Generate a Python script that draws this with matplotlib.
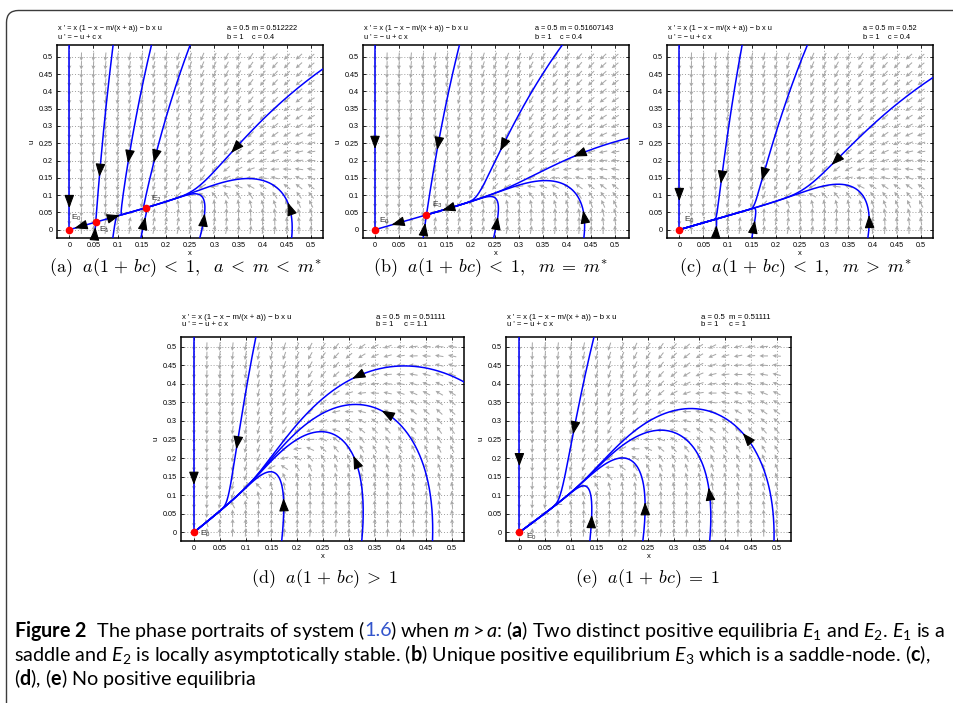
import math
import numpy as np
import matplotlib
matplotlib.use('Agg')
import matplotlib.pyplot as plt
from matplotlib.patches import FancyBboxPatch
from matplotlib.transforms import IdentityTransform

W, H = 954, 703

# system parameters shown in each panel header
a_vals = [0.5, 0.5, 0.5, 0.5, 0.5]
m_vals = [0.512222, 0.51607143, 0.52, 0.51111, 0.51111]
b_vals = [1, 1, 1, 1, 1]
c_vals = [0.4, 0.4, 0.4, 1.1, 1]
m_text = ['0.512222', '0.51607143', '0.52', '0.51111', '0.51111']
c_text = ['0.4', '0.4', '0.4', '1.1', '1']

sub_captions = [
    r'$\mathrm{(a)}\ \ a(1\,+\,bc)\;<\;1,\ \ a\;<\;m\;<\;m^{*}$',
    r'$\mathrm{(b)}\ \ a(1\,+\,bc)\;<\;1,\ \ m\;=\;m^{*}$',
    r'$\mathrm{(c)}\ \ a(1\,+\,bc)\;<\;1,\ \ m\;>\;m^{*}$',
    r'$\mathrm{(d)}\ \ a(1\,+\,bc)\;>\;1$',
    r'$\mathrm{(e)}\ \ a(1\,+\,bc)\;=\;1$',
]

# axis windows (x range, u range)
xlims = [(-0.0254, 0.5248), (-0.025, 0.529), (-0.0254, 0.5248), (-0.025, 0.523), (-0.026, 0.528)]
ylims = [(-0.024, 0.534), (-0.024, 0.534), (-0.024, 0.534), (-0.0234, 0.526), (-0.0234, 0.526)]
xticks = [0, 0.05, 0.1, 0.15, 0.2, 0.25, 0.3, 0.35, 0.4, 0.45, 0.5]
xtick_labels = ['0', '0.05', '0.1', '0.15', '0.2', '0.25', '0.3', '0.35', '0.4', '0.45', '0.5']
field_pts = np.linspace(0, 0.5, 21)

# trajectory start points (x, u) and where their arrow sits
starts = [
    [(0.0, 0.534), (0.17, 0.534), (0.25, 0.534), (0.5248, 0.465), (0.09, -0.024),
     (0.148, -0.024), (0.27, -0.024), (0.46, -0.024)],
    [(0.0, 0.534), (0.39, 0.534), (0.529, 0.265), (0.247, -0.024), (0.435, -0.024)],
    [(0.0, 0.534), (0.13, 0.534), (0.075, -0.024), (0.265, 0.534), (0.15, -0.024),
     (0.5248, 0.44), (0.39, -0.024)],
    [(0.0, 0.526), (0.12, 0.526), (0.523, 0.405), (0.462, -0.0234), (0.325, -0.0234),
     (0.17, -0.0234)],
    [(0.0, 0.526), (0.145, 0.526), (0.495, -0.0234), (0.37, -0.0234), (0.24, -0.0234),
     (0.137, -0.0234)],
]
arrow_pts = [
    [[(0, 0.07)], [(0.12, 0.2)], [(0.18, 0.2)], [(0.34, 0.225)], [],
     [(0.155, 0.03)], [(0.28, 0.04)], [(0.45, 0.07)]],
    [[(0, 0.24)], [(0.27, 0.23), (0.145, 0.057)], [(0.42, 0.21)], [(0.258, 0.03)], [(0.437, 0.05)]],
    [[(0, 0.09)], [(0.09, 0.14)], [(0.076, 0.005)], [(0.17, 0.15)], [(0.155, 0.02)],
     [(0.32, 0.19)], [(0.39, 0.035)]],
    [[(0, 0.135)], [(0.082, 0.23)], [(0.31, 0.42)], [(0.37, 0.33)], [(0.31, 0.2)], [(0.172, 0.085)]],
    [[(0, 0.185)], [(0.107, 0.27)], [(0.44, 0.265)], [(0.37, 0.115)], [(0.24, 0.075)], [(0.137, 0.04)]],
]
# invariant manifolds of the interior equilibria: (root index, kind, side, arrow)
manifolds = [
    [(0, 'stable', 1, (0.058, 0.16)), (0, 'stable', -1, (0.052, 0.0)),
     (0, 'unstable', -1, (0.015, 0.008)), (0, 'unstable', 1, (0.1, 0.04))],
    [(0, 'stable', 1, (0.12, 0.24)), (0, 'stable', -1, (0.107, 0.012)),
     (0, 'center', -1, (0.04, 0.013))],
    [], [], [],
]
eq_names = [[r'E$_1$', r'E$_2$'], [r'E$_3$'], [], [], []]
eq_label_off = [[(0.006, -0.022), (0.009, 0.024)], [(0.011, 0.028)], [], [], []]
e0_label_pos = [(0.004, 0.034), (0.009, 0.024), (0.01, 0.027), (0.012, -0.003), (0.012, -0.013)]

# axes boxes in pixels: left, top, right, bottom
boxes = [(57, 45, 323, 238), (363, 45, 629, 238), (667, 45, 933, 238),
         (181, 337, 464, 541), (506, 337, 791, 541)]
caption_xy = [(185, 268), (490, 268), (795, 268), (325, 579), (648, 579)]
right_hdr = [0.639, 0.647, 0.737, 0.689, 0.683]

FIELD_GRAY = '#a8a8a8'
TRAJ_BLUE = '#0000ff'


def field(x, u, p):
    a, m, b, c = p
    return x * (1 - x - m / (x + a)) - b * x * u, -u + c * x


def integrate(p, x0, u0, sign, box, ds=0.0012, dtmax=1.0, nmax=7000):
    xs, us = [x0], [u0]
    x, u = x0, u0

    def f(x, u):
        fx, fu = field(x, u, p)
        return sign * fx, sign * fu

    for _ in range(nmax):
        k1 = f(x, u)
        sp = math.hypot(*k1)
        if sp < 1e-10:
            break
        dt = min(ds / sp, dtmax)
        k2 = f(x + dt / 2 * k1[0], u + dt / 2 * k1[1])
        k3 = f(x + dt / 2 * k2[0], u + dt / 2 * k2[1])
        k4 = f(x + dt * k3[0], u + dt * k3[1])
        x += dt / 6 * (k1[0] + 2 * k2[0] + 2 * k3[0] + k4[0])
        u += dt / 6 * (k1[1] + 2 * k2[1] + 2 * k3[1] + k4[1])
        xs.append(x)
        us.append(u)
        if x < box[0] or x > box[1] or u < box[2] or u > box[3]:
            break
    return np.array(xs), np.array(us)


def equilibria(p):
    a, m, b, c = p
    k = 1 + b * c
    disc = max((1 - a * k) ** 2 - 4 * k * (m - a), 0.0)
    roots = [((1 - a * k) - math.sqrt(disc)) / (2 * k), ((1 - a * k) + math.sqrt(disc)) / (2 * k)]
    return [(r, c * r) for r in roots if r > 0]


def jacobian(p, x, u, h=1e-7):
    f0 = np.array(field(x, u, p))
    jx = (np.array(field(x + h, u, p)) - f0) / h
    ju = (np.array(field(x, u + h, p)) - f0) / h
    return np.column_stack([jx, ju])


plt.rcParams['font.family'] = ['Liberation Sans', 'DejaVu Sans']
plt.rcParams['mathtext.fontset'] = 'custom'
plt.rcParams['mathtext.rm'] = 'Lato'
plt.rcParams['mathtext.it'] = 'Lato:italic'
plt.rcParams['mathtext.bf'] = 'Lato:bold'

fig = plt.figure(figsize=(W / 100, H / 100), dpi=100)

for i in range(5):
    p = (a_vals[i], m_vals[i], b_vals[i], c_vals[i])
    l, t, r, bt = boxes[i]
    ax = fig.add_axes([l / W, 1 - bt / H, (r - l) / W, (bt - t) / H])
    x0, x1 = xlims[i]
    y0, y1 = ylims[i]
    ax.set_xlim(x0, x1)
    ax.set_ylim(y0, y1)
    pw, ph = r - l, bt - t
    sx_ = (x1 - x0) / pw
    sy_ = (y1 - y0) / ph

    # direction field, arrows of equal on-screen length
    GX, GY = np.meshgrid(field_pts, field_pts)
    FX, FY = field(GX, GY, p)
    PX = FX / sx_
    PY = FY / sy_
    L = np.hypot(PX, PY)
    L[L == 0] = 1
    alen = 8.5
    DX = PX / L * alen * sx_
    DY = PY / L * alen * sy_
    ax.quiver(GX, GY, DX, DY, angles='xy', scale_units='xy', scale=1, pivot='middle',
              color=FIELD_GRAY, units='dots', width=1.0, headwidth=4.2, headlength=4.2,
              headaxislength=3.6, zorder=1)

    ax.grid(True, color='#a0a0a0', linestyle=(0, (1, 2)), linewidth=0.7)
    ax.set_axisbelow(True)

    box = (x0 - 0.004, x1 + 0.004, y0 - 0.004, y1 + 0.004)
    curves = []
    for (sx, su), arr in zip(starts[i], arrow_pts[i]):
        curves.append((integrate(p, sx, su, 1, box), arr))

    eqs = equilibria(p)
    for k, kind, side, arr in manifolds[i]:
        ex, eu = eqs[k]
        J = jacobian(p, ex, eu)
        vals, vecs = np.linalg.eig(J)
        vals = vals.real
        if kind == 'stable':
            v = vecs[:, np.argmin(vals)].real
            sign = -1
        else:
            v = vecs[:, np.argmax(vals)].real
            sign = 1
        v = v / np.hypot(*v)
        if v[0] < 0:
            v = -v
        eps = 1e-3
        cx, cu = integrate(p, ex + side * eps * v[0], eu + side * eps * v[1], sign, box)
        cx = np.concatenate([[ex], cx])
        cu = np.concatenate([[eu], cu])
        curves.append(((cx, cu), [arr]))

    for (cx, cu), arr in curves:
        ax.plot(cx, cu, color=TRAJ_BLUE, lw=1.1, zorder=3)
        for (xa, ua) in arr:
            d = ((cx - xa) / sx_) ** 2 + ((cu - ua) / sy_) ** 2
            j = int(np.argmin(d))
            xp, up = cx[j], cu[j]
            fx, fu = field(xp, up, p)
            qx, qy = fx / sx_, fu / sy_
            qn = math.hypot(qx, qy)
            step = 2.5
            ax.annotate('', xy=(xp + qx / qn * step * sx_, up + qy / qn * step * sy_),
                        xytext=(xp - qx / qn * step * sx_, up - qy / qn * step * sy_),
                        arrowprops=dict(arrowstyle='-|>,head_length=0.8,head_width=0.3',
                                        color='black', lw=0.8, shrinkA=0, shrinkB=0),
                        zorder=4)

    # equilibria
    ax.plot([0], [0], 'o', color='#ff0000', ms=4.5, zorder=5, clip_on=False)
    ax.text(e0_label_pos[i][0], e0_label_pos[i][1], r'E$_0$', fontsize=6, color='#333333',
            ha='left', va='center', zorder=6)
    for (ex, eu), name, off in zip(eqs, eq_names[i], eq_label_off[i]):
        ax.plot([ex], [eu], 'o', color='#ff0000', ms=4.5, zorder=5)
        ax.text(ex + off[0], eu + off[1], name, fontsize=6, color='#333333',
                ha='left', va='center', zorder=6)

    ax.set_xticks(xticks)
    ax.set_xticklabels(xtick_labels)
    ax.set_yticks(xticks)
    ax.set_yticklabels(xtick_labels)
    ax.tick_params(direction='in', length=2.5, width=0.6, labelsize=5.2, pad=3,
                   top=True, right=True, colors='black')
    for s in ax.spines.values():
        s.set_linewidth(1.1)
    ax.set_xlabel('x', fontsize=5.5, labelpad=0.5)
    ax.set_ylabel('u', fontsize=5.5, labelpad=2)

    hdr = 5.3 if i < 3 else 5.6
    g1, g2 = (1.041, 1.083) if i < 3 else (1.059, 1.098)
    ax.text(0.005, g2, "x ' = x (1 \u2212 x \u2212 m/(x + a)) \u2212 b x u", transform=ax.transAxes,
            fontsize=hdr, ha='left', va='center')
    ax.text(0.005, g1, "u ' = \u2212 u + c x", transform=ax.transAxes, fontsize=hdr,
            ha='left', va='center')
    gap = 0.093 if i < 3 else 0.1
    ax.text(right_hdr[i], g2, 'a = 0.5', transform=ax.transAxes, fontsize=hdr, ha='left', va='center')
    ax.text(right_hdr[i] + gap, g2, 'm = ' + m_text[i], transform=ax.transAxes, fontsize=hdr,
            ha='left', va='center')
    ax.text(right_hdr[i], g1, 'b = 1', transform=ax.transAxes, fontsize=hdr, ha='left', va='center')
    ax.text(right_hdr[i] + gap, g1, 'c = ' + c_text[i], transform=ax.transAxes, fontsize=hdr,
            ha='left', va='center')

    cxp, cyp = caption_xy[i]
    fig.text(cxp / W, 1 - cyp / H, sub_captions[i], fontsize=13, ha='center', va='center',
             math_fontfamily='cm')

# frame round the figure block
frame = FancyBboxPatch((6.5, -40), 1100, H - 10.5 + 40, boxstyle='round,pad=0,rounding_size=12',
                       transform=IdentityTransform(), fill=False, edgecolor='#3c3c3c', lw=1.0)
fig.add_artist(frame)

# figure caption, built piece by piece
renderer = fig.canvas.get_renderer()
lines = [
    [(r'$\mathbf{Figure\ 2}$  The phase portraits of system (', 'black'),
     ('1.6', '#3355cc'),
     (r') when $m>a$: ($\mathbf{a}$) Two distinct positive equilibria $E_1$ and $E_2$. $E_1$ is a', 'black')],
    [(r'saddle and $E_2$ is locally asymptotically stable. ($\mathbf{b}$) Unique positive equilibrium '
      r'$E_3$ which is a saddle-node. ($\mathbf{c}$),', 'black')],
    [(r'($\mathbf{d}$), ($\mathbf{e}$) No positive equilibria', 'black')],
]
line_y = [631, 655, 679]


def place(size, draw):
    made = []
    widths = []
    for row, yy in zip(lines, line_y):
        xx = 14.0
        for s, col in row:
            t = fig.text(xx / W, 1 - yy / H, s, fontsize=size, family='Lato', color=col,
                         ha='left', va='center')
            wpx = t.get_window_extent(renderer).width
            made.append(t)
            xx += wpx - 1.5
        widths.append(xx - 14.0)
    if not draw:
        for t in made:
            t.remove()
    return widths


w0 = place(10, False)
place(10 * 931 / w0[0], True)

fig.savefig('out.png', dpi=100)
